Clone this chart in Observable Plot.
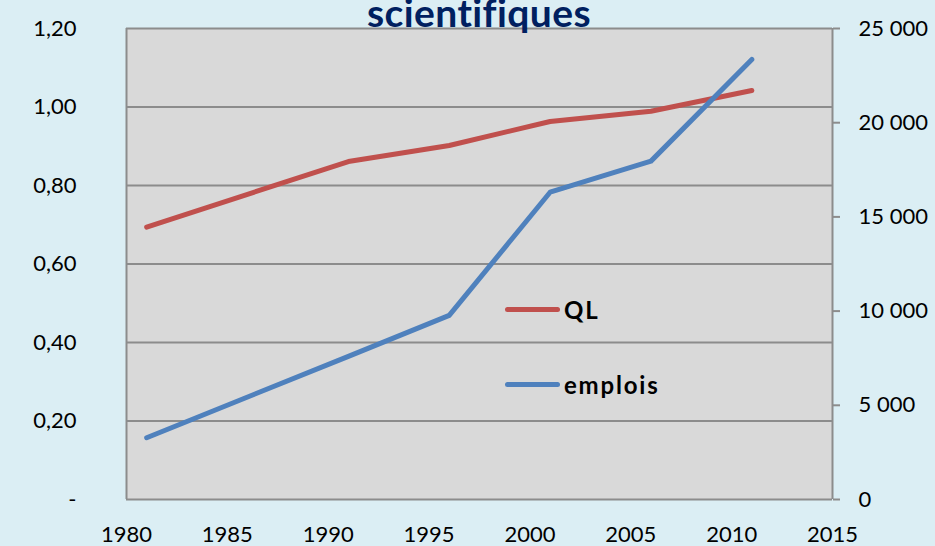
<!DOCTYPE html>
<html>
<head>
<meta charset="utf-8">
<script src="https://cdn.jsdelivr.net/npm/d3@7"></script>
<script src="https://cdn.jsdelivr.net/npm/@observablehq/plot@0.6"></script>
<style>
  html, body { margin: 0; padding: 0; background: #dbeef4; }
  #wrap { position: relative; width: 935px; height: 546px; overflow: hidden; background: #dbeef4; font-family: Lato, "Open Sans", sans-serif; }
  #title { position: absolute; left: 367px; top: -7px; font-size: 39px; letter-spacing: 0.4px; font-weight: 700; color: #002060; line-height: 39px; white-space: nowrap; font-variant-ligatures: none; font-feature-settings: "liga" 0; }
  .leg { position: absolute; display: flex; align-items: center; font-size: 24px; letter-spacing: 1.8px; font-weight: 700; color: #000; height: 30px; }
  .leg .sw { width: 55px; height: 5px; border-radius: 3px; margin-right: 4px; }
</style>
</head>
<body>
<div id="wrap">
  <div id="chart"></div>
  <div id="title">scientifiques</div>
  <div class="leg" style="left:505px; top:294px;"><div class="sw" style="background:#c0504d"></div><span>QL</span></div>
  <div class="leg" style="left:505px; top:369px;"><div class="sw" style="background:#4f81bd"></div><span>emplois</span></div>
</div>
<script>
const years = [1981, 1991, 1996, 2001, 2006, 2011];
const ql = [0.694, 0.861, 0.902, 0.963, 0.989, 1.042];
const emplois = [3280, 7600, 9770, 16310, 17960, 23360];
const leftTicks = [0, 0.2, 0.4, 0.6, 0.8, 1.0, 1.2];
const rightTicks = [0, 5000, 10000, 15000, 20000, 25000];
const xTicks = [1980, 1985, 1990, 1995, 2000, 2005, 2010, 2015];

const leftMax = 1.2, rightMax = 25000;
const toLeft = v => v / rightMax * leftMax;

const qlData = years.map((y, i) => ({year: y, v: ql[i]}));
const empData = years.map((y, i) => ({year: y, v: toLeft(emplois[i])}));

const fmtLeft = d => d === 0 ? "-" : d.toFixed(2).replace(".", ",");
const fmtRight = v => v === 0 ? "0" : d3.format(",")(v).replace(/,/g, " ");
const rightLabel = new Map(rightTicks.map(v => [toLeft(v), fmtRight(v)]));

const chart = Plot.plot({
  width: 935,
  height: 546,
  marginLeft: 126,
  marginRight: 103,
  marginTop: 28,
  marginBottom: 47,
  style: { background: "transparent", fontFamily: "Lato, 'Open Sans', sans-serif", fontSize: "22px", color: "#000" },
  x: { domain: [1980, 2015] },
  y: { domain: [0, 1.2] },
  marks: [
    Plot.frame({ fill: "#d9d9d9", stroke: "none" }),
    Plot.gridY(leftTicks, { stroke: "#8c8c8c", strokeOpacity: 1, strokeWidth: 2 }),
    Plot.ruleX([1980, 2015], { stroke: "#8c8c8c", strokeWidth: 2 }),
    Plot.axisY(leftTicks, { anchor: "left", tickSize: 0, tickPadding: 50, tickFormat: fmtLeft, label: null, fontSize: 22 }),
    Plot.axisY(rightTicks.map(toLeft), { anchor: "right", tickSize: 7, tickPadding: 19, stroke: "#8c8c8c", strokeWidth: 2, tickFormat: d => rightLabel.get(d), label: null, fontSize: 22, textAnchor: "start" }),
    Plot.axisX(xTicks, { anchor: "bottom", tickSize: 0, tickPadding: 27, tickFormat: d => String(d), label: null, fontSize: 22 }),
    Plot.line(qlData, { x: "year", y: "v", stroke: "#c0504d", strokeWidth: 5, strokeLinecap: "round", strokeLinejoin: "round" }),
    Plot.line(empData, { x: "year", y: "v", stroke: "#4f81bd", strokeWidth: 5, strokeLinecap: "round", strokeLinejoin: "round" })
  ]
});
document.getElementById("chart").appendChild(chart);
</script>
</body>
</html>
